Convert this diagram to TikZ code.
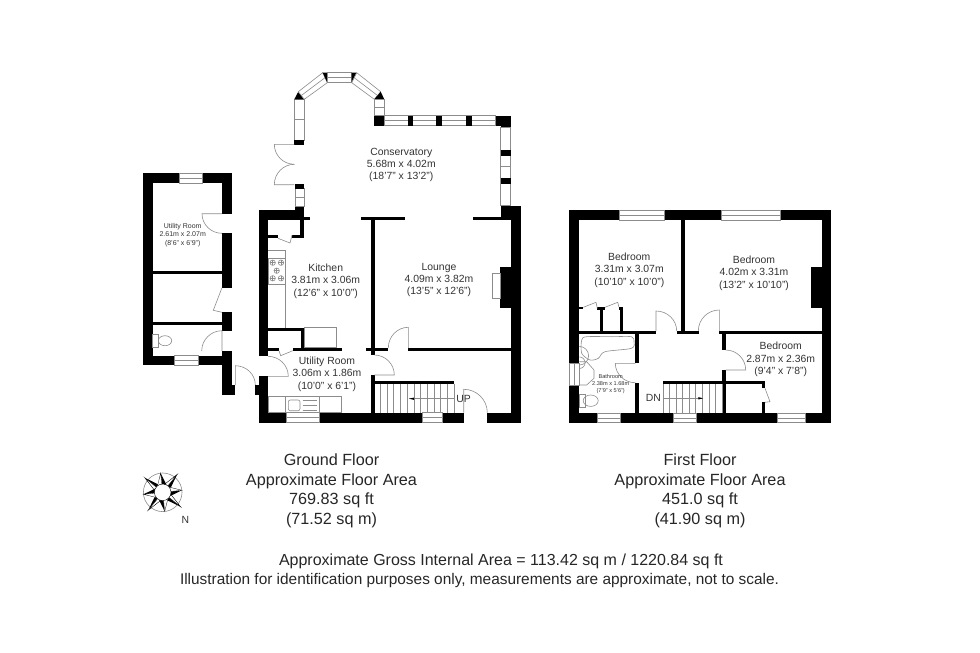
\documentclass[tikz,border=0pt]{standalone}
\usepackage{fontspec}
\setmainfont{Liberation Sans}
\usetikzlibrary{calc}
\definecolor{fixline}{HTML}{8C8C8C}
\tikzset{
	wall/.style={fill=black},
	thin line/.style={draw=fixline,line width=.6pt},
	room/.style={align=center,text=black!80,font=\fontsize{10.4}{12.4}\selectfont},
	small room/.style={align=center,text=black!80,font=\fontsize{7}{8.5}\selectfont},
	tiny room/.style={align=center,text=black!80,font=\fontsize{5.6}{6.8}\selectfont},
	caption/.style={align=center,text=black!85,font=\fontsize{16.2}{19.6}\selectfont},
	note/.style={text=black!85,font=\fontsize{15.4}{18}\selectfont},
}
\newcommand{\WINDOW}[4]{
	\draw[thin line,fill=white] #1 -- #2 -- #3 -- #4 -- cycle;
	\draw[thin line] ($#1!.5!#4$) -- ($#2!.5!#3$);
}
\newcommand{\DOOR}[3]{
	\draw[thin line] #1 -- #2 .. controls ($#2+.5523*#3-.5523*#1$) and ($#3+.5523*#2-.5523*#1$) .. #3;
}
\begin{document}
\begin{tikzpicture}[x=1pt,y=-1pt]
	\useasboundingbox (0,0) rectangle (980,653);
	% outbuilding walls
	\foreach \xa/\ya/\xb/\yb in {142.7/173.3/232/183.3, 142.7/173.3/152.7/365.3, 222/173.3/232/213.7, 222/233.3/232/287.7, 152.7/270.7/222/274.3, 152.7/322/222/325.3, 222/312.3/232/330.7, 222/351/232/395, 222/385/235.3/395, 142.7/355.7/222/365.3}
		\fill[wall] (\xa,\ya) rectangle (\xb,\yb);
	\WINDOW{(179.3,173.3)}{(202.7,173.3)}{(202.7,183.3)}{(179.3,183.3)}
	\WINDOW{(174.3,355.7)}{(198,355.7)}{(198,365.3)}{(174.3,365.3)}
	\DOOR{(222,213.7)}{(202,213.7)}{(222,233.3)}
	\DOOR{(222,351)}{(222,330.7)}{(201.7,351)}
	\DOOR{(235.3,385)}{(235.3,365.7)}{(255.3,385)}
	\draw[thin line] (222,287.7) -- (213.3,310.3) -- (222,312.3);
	\draw[thin line] (152.7,334) rectangle (158.3,347.3);
	\draw[thin line] (165,340.7) ellipse (6.7 and 5);
	% ground floor walls
	\foreach \xa/\ya/\xb/\yb in {258.7/210/304/216.7, 258.7/216.7/310.3/220.3, 258.7/210/268/356.3, 258.7/376.3/268/422.7, 255.3/385/258.7/395, 300/220/304/238.3, 292/235/304/238.3, 268/235/278/238.3, 268/328/304/330.7, 301.3/328/304/350, 292.7/347.7/342.3/350.7, 268/347.7/279/350.7, 258.7/412.7/520.7/422.7, 361/216.7/405.3/220.3, 370.7/220/374.5/355, 365.5/347.7/388.3/350.7, 408.3/347.7/510.7/350.7, 370.7/375/374.5/413, 374.3/380.7/454/383.7, 510.7/210/520.7/422.7, 500/266.7/510.7/307.7, 472.7/216.7/510.7/220.3, 500.7/205.7/520.7/216.7, 495.7/115.7/510.7/125.7, 500.7/115.7/510.7/127.7}
		\fill[wall] (\xa,\ya) rectangle (\xb,\yb);
	% gaps of the front wall
	\fill[white] (464,412) rectangle (487.3,423);
	\WINDOW{(286,412.7)}{(319.7,412.7)}{(319.7,422.7)}{(286,422.7)}
	\WINDOW{(422.7,412.7)}{(442.3,412.7)}{(442.3,422.7)}{(422.7,422.7)}
	% conservatory
	\WINDOW{(294.3,99.3)}{(304.3,99.3)}{(304.3,140)}{(294.3,140)}
	\fill[wall] (294.3,140) rectangle (304.3,144.7);
	\fill[wall] (294.3,99.3) -- (298.3,91.7) -- (304.3,99.3) -- cycle;
	\WINDOW{(298.3,91.7)}{(322.7,72.7)}{(327.3,82.7)}{(304.3,99.3)}
	\fill[wall] (322.7,72.7) -- (327.3,72.7) -- (327.3,82.7) -- cycle;
	\WINDOW{(327.3,72.7)}{(351.7,72.7)}{(351.7,82.7)}{(327.3,82.7)}
	\fill[wall] (351.7,72.7) -- (356.7,72.7) -- (351.7,82.7) -- cycle;
	\WINDOW{(356.7,72.7)}{(380.7,91.7)}{(374.3,99.3)}{(351.7,82.7)}
	\fill[wall] (374.3,99.3) -- (380.7,91.7) -- (384.3,99.3) -- cycle;
	\WINDOW{(374.3,99.3)}{(384.3,99.3)}{(384.3,115.7)}{(374.3,115.7)}
	\WINDOW{(384.3,115.7)}{(495.7,115.7)}{(495.7,125.7)}{(384.3,125.7)}
	\WINDOW{(500.7,127.7)}{(510.7,127.7)}{(510.7,205.7)}{(500.7,205.7)}
	\WINDOW{(295,188.7)}{(304,188.7)}{(304,206.7)}{(295,206.7)}
	\foreach \xa/\ya/\xb/\yb in {374.3/115.7/384.3/125.7, 407.7/115.7/413.3/125.7, 436.3/115.7/442.3/125.7, 465.7/115.7/472.3/125.7, 500.7/150/510.7/156, 500.7/177.7/510.7/183.7, 295/184.3/304/188.7, 295/206.7/304/210}
		\fill[wall] (\xa,\ya) rectangle (\xb,\yb);
	\DOOR{(294.3,144.3)}{(274.3,144.3)}{(294.3,164.3)}
	\DOOR{(294.3,184.7)}{(274.3,184.7)}{(294.3,164.3)}
	% ground floor doors and fittings
	\DOOR{(268,376.3)}{(288.3,376.3)}{(268,356.3)}
	\DOOR{(408.3,348)}{(408.3,327.3)}{(388.3,348)}
	\DOOR{(374.3,375)}{(394.3,375)}{(374.3,355)}
	\DOOR{(463.7,412.7)}{(463.7,389.3)}{(487.3,412.7)}
	\draw[thin line] (278,238.3) -- (290,243) -- (292,235);
	\draw[thin line] (279,350.7) -- (280.7,355.7) -- (292.7,350.7);
	\draw[thin line] (268,250) -- (285.7,250) -- (285.7,328);
	\draw[thin line] (268,258) rectangle (285.7,284);
	\foreach \cx/\cy in {272.7/262.7, 281/262.7, 276.7/270.7, 272.7/278.3, 281/278.3}{
		\draw[thin line] (\cx,\cy) circle (2.7);
		\draw[thin line] (\cx-2.7,\cy) -- (\cx+2.7,\cy) (\cx,\cy-2.7) -- (\cx,\cy+2.7);
	}
	\draw[thin line] (304,327.3) rectangle (336.7,347.7);
	\draw[thin line] (268,396) rectangle (341,412.7);
	\draw[thin line] (285,396) -- (285,412.7) (319.3,396) -- (319.3,412.7);
	\draw[thin line,rounded corners=2pt] (288.3,400) rectangle (300,410.7);
	\foreach \ly in {400.7,405.7,410.3}
		\draw[thin line] (302.7,\ly) -- (316.7,\ly);
	\draw[thin line] (492,273.3) rectangle (500,298.3);
	% stairs up
	\foreach \sx in {0,...,11}
		\draw[thin line] (380.3+\sx*6.7,383.7) -- (380.3+\sx*6.7,412.7);
	\draw[thin line] (454,398.7) -- (409.3,398.7);
	\fill[wall] (409.3,398.7) -- (414,397.5) -- (414,399.9) -- cycle;
	% first floor walls
	\foreach \xa/\ya/\xb/\yb in {569.3/210/831.3/220, 569.3/210/579.3/363.3, 569.3/385/579.3/422.7, 821.7/210/831.3/422.7, 810.7/266.7/821.7/307.7, 569.3/413.3/831.3/422.7, 680.7/220/685/331, 579.3/330.7/656/334, 676.7/330.7/699/334, 719.3/330.7/821.7/334, 579.3/306.7/583.3/309.3, 597.3/307.3/605/310, 600/310/603.3/331, 619/307.3/622.7/310, 620/310/622.7/331, 635.3/334/638.7/363.3, 635.3/382.7/638.7/413.3, 663.3/381/765/384, 722.3/334/725.5/350, 722.3/370/725.5/413.3, 762.3/381/765/388.3, 762.3/402.3/765/413.3}
		\fill[wall] (\xa,\ya) rectangle (\xb,\yb);
	\WINDOW{(619.3,210)}{(664.7,210)}{(664.7,220)}{(619.3,220)}
	\WINDOW{(721.3,210)}{(780.3,210)}{(780.3,220)}{(721.3,220)}
	\WINDOW{(597,413.3)}{(620.3,413.3)}{(620.3,422.7)}{(597,422.7)}
	\WINDOW{(673.3,413.3)}{(696.7,413.3)}{(696.7,422.7)}{(673.3,422.7)}
	\WINDOW{(777.3,413.3)}{(805,413.3)}{(805,422.7)}{(777.3,422.7)}
	\WINDOW{(569.3,363.3)}{(569.3,385)}{(579.3,385)}{(579.3,363.3)}
	% first floor doors and fittings
	\DOOR{(656,331)}{(656,311)}{(676.7,331)}
	\DOOR{(719.3,331)}{(719.3,310)}{(698.3,331)}
	\DOOR{(635.3,363.3)}{(615.3,363.3)}{(635.3,382.7)}
	\DOOR{(725.7,370)}{(745.7,370)}{(725.7,350)}
	\draw[thin line] (583.3,307.3) -- (596,302.3) -- (597.3,308.3);
	\draw[thin line] (605,307.3) -- (617.7,302.3) -- (619,307.3);
	\draw[thin line] (765,388.3) -- (770,401.7) -- (765,402.3);
	% bath, basin and toilet
	\draw[thin line] plot[smooth cycle,tension=.5] coordinates {(586.7,336.7) (612,336.7) (631.5,336.7) (634,341.7) (631.5,348.3) (605,351.7) (598.3,358.3) (590,360) (581.7,353.3) (581.7,340)};
	\draw[thin line] (579.3,361.7) -- (586.7,361.7) -- (594,370) -- (594,378.3) -- (586.7,385) -- (579.3,385);
	\draw[thin line] (579.3,365) arc (90:-90:9.3);
	\draw[thin line] (579.3,368.5) arc (90:-90:5.8);
	\draw[thin line] (579.3,394) rectangle (585,407.3);
	\draw[thin line] (590.7,400.7) ellipse (7.5 and 5.7);
	% stairs down
	\foreach \sx in {0,...,8}
		\draw[thin line] (669.3+\sx*6.6,384) -- (669.3+\sx*6.6,413.3);
	\draw[thin line] (663.3,384) -- (663.3,413.3);
	\draw[thin line] (663.3,398.3) -- (703,398.3);
	\fill[wall] (703,398.3) -- (698.3,397.1) -- (698.3,399.5) -- cycle;
	% compass
	\coordinate (compass) at (162.7,492.3);
	\draw[thin line] (compass) circle (19.3);
	\foreach \ang in {-51,39,129,219}{
		\fill[wall] (compass) ++(\ang:23) -- ++(\ang+167:16) -- (compass) -- cycle;
		\draw[line width=.4pt,fill=white] (compass) ++(\ang:23) -- ++(\ang-167:16) -- (compass) -- cycle;
	}
	\foreach \ang in {-6,84,174,264}{
		\fill[wall] (compass) ++(\ang:19.3) -- ++(\ang+160:13) -- (compass) -- cycle;
		\draw[line width=.3pt,fill=white] (compass) ++(\ang:19.3) -- ++(\ang-160:13) -- (compass) -- cycle;
	}
	\fill[white] (compass) circle (8.3);
	\draw[line width=.4pt] (compass) circle (8.3);
	\node[room] (north) at (185.5,519.5) {N};
	% room labels
	\node[small room] (utilityback) at (182.7,235) {Utility Room\\2.61m x 2.07m\\(8'6" x 6'9")};
	\node[room] (conservatory) at (401.3,165) {Conservatory\\5.68m x 4.02m\\(18'7" x 13'2")};
	\node[room] (kitchen) at (325.7,281) {Kitchen\\3.81m x 3.06m\\(12'6" x 10'0")};
	\node[room] (lounge) at (439,280) {Lounge\\4.09m x 3.82m\\(13'5" x 12'6")};
	\node[room] (utility) at (327,374) {Utility Room\\3.06m x 1.86m\\(10'0" x 6'1")};
	\node[room] (up) at (463.5,398.7) {UP};
	\node[room] (dn) at (653.3,398) {DN};
	\node[room] (bedroomone) at (629.3,270) {Bedroom\\3.31m x 3.07m\\(10'10" x 10'0")};
	\node[room] (bedroomtwo) at (754,273) {Bedroom\\4.02m x 3.31m\\(13'2" x 10'10")};
	\node[room] (bedroomthree) at (780.7,359.7) {Bedroom\\2.87m x 2.36m\\(9'4" x 7'8")};
	\node[tiny room] (bathroom) at (610.7,384) {Bathroom\\2.38m x 1.68m\\(7'9" x 5'6")};
	% captions
	\node[caption] (ground) at (331.5,491) {Ground Floor\\Approximate Floor Area\\769.83 sq ft\\(71.52 sq m)};
	\node[caption] (first) at (700,491) {First Floor\\Approximate Floor Area\\451.0 sq ft\\(41.90 sq m)};
	\node[note,font=\fontsize{16}{18}\selectfont] (gross) at (501,561) {Approximate Gross Internal Area = 113.42 sq m / 1220.84 sq ft};
	\node[note] (illustration) at (479.5,581) {Illustration for identification purposes only, measurements are approximate, not to scale.};
\end{tikzpicture}
\end{document}
